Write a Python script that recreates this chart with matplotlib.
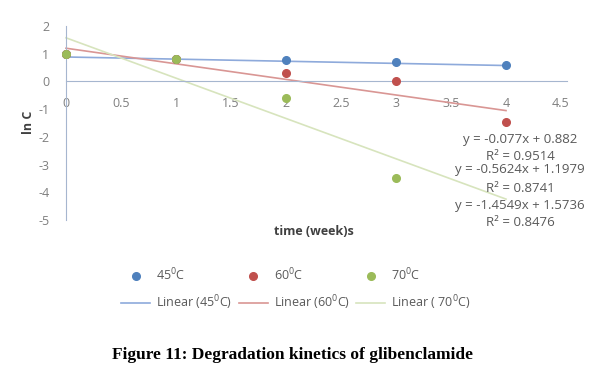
import matplotlib
matplotlib.use("Agg")
import matplotlib.pyplot as plt
import numpy as np
from matplotlib.lines import Line2D

plt.rcParams['font.family'] = ['Open Sans', 'DejaVu Sans']

# Data
weeks_45 = [0, 1, 2, 3, 4]
lnC_45 = [1.0, 0.8, 0.78, 0.70, 0.60]
weeks_60 = [0, 1, 2, 3, 4]
lnC_60 = [1.0, 0.8, 0.31, 0.0, -1.48]
weeks_70 = [0, 1, 2, 3]
lnC_70 = [1.0, 0.8, -0.58, -3.5]

series_names = ['45', '60', '70']
slopes = [-0.077, -0.5624, -1.4549]
intercepts = [0.882, 1.1979, 1.5736]
r2_values = [0.9514, 0.8741, 0.8476]
eq_texts = ['y = -0.077x + 0.882', 'y = -0.5624x + 1.1979', 'y = -1.4549x + 1.5736']

x_ticks = [0, 0.5, 1, 1.5, 2, 2.5, 3, 3.5, 4, 4.5]
x_tick_labels = ['0', '0.5', '1', '1.5', '2', '2.5', '3', '3.5', '4', '4.5']
y_ticks = [-5, -4, -3, -2, -1, 0, 1, 2]

marker_colors = ['#4F81BD', '#C0504D', '#9BBB59']
line_colors = ['#8EAADB', '#D99694', '#D7E4BD']

fig = plt.figure(figsize=(6.14, 3.79), dpi=100)
ax = fig.add_axes([66/614, 1-220/379, 495/614, 194/379])

ax.set_xlim(0, 4.5)
ax.set_ylim(-5, 2)

xs_fit = np.array([0, 4])
for s, b, lc in zip(slopes, intercepts, line_colors):
    ax.plot(xs_fit, s*xs_fit + b, color=lc, lw=1.2, zorder=2, clip_on=False)

for (wx, wy), mc in zip([(weeks_45, lnC_45), (weeks_60, lnC_60), (weeks_70, lnC_70)], marker_colors):
    ax.plot(wx, wy, 'o', color=mc, ms=5.5, zorder=3, clip_on=False, mec=mc)

# Spines Excel-like
for sp in ['top', 'right']:
    ax.spines[sp].set_visible(False)
ax.spines['left'].set_position(('data', 0))
ax.spines['bottom'].set_position(('data', 0))
axis_col = '#A6B6CF'
ax.spines['left'].set_color(axis_col)
ax.spines['bottom'].set_color(axis_col)
ax.spines['bottom'].set_bounds(0, 4.55)

ax.set_xticks(x_ticks)
ax.set_xticklabels(x_tick_labels)
ax.set_yticks(y_ticks)
ax.set_yticklabels([str(v) for v in y_ticks])
ax.tick_params(axis='both', length=0, colors='#7F7F7F', labelsize=9)
ax.tick_params(axis='x', pad=11)
ax.tick_params(axis='y', pad=12)

fig.text(28/614, 1-122/379, 'ln C', rotation=90, ha='center', va='center',
         fontsize=9, fontweight='bold', color='#404040')
fig.text(314/614, 1-231/379, 'time (week)s', ha='center', va='center',
         fontsize=9, fontweight='bold', color='#404040')

# Equation labels
eq_pos = [(520, 140, 157), (520, 170, 188), (520, 206, 223)]
for (xp, ye, yr), eq, r2 in zip(eq_pos, eq_texts, r2_values):
    fig.text(xp/614, 1-ye/379, eq, ha='center', va='center', fontsize=9.5, color='#595959')
    fig.text(xp/614, 1-yr/379, 'R² = %.4f' % r2, ha='center', va='center', fontsize=9.5, color='#595959')

# Legend
leg_handles = []
leg_labels = []
for name, mc, lc in zip(series_names, marker_colors, line_colors):
    leg_handles.append(Line2D([], [], ls='none', marker='o', color=mc, ms=5.5))
    leg_labels.append(r'%s$^{\mathregular{0}}$C' % name)
    leg_handles.append(Line2D([], [], color=lc, lw=1.2))
    leg_labels.append(r'Linear (%s%s$^{\mathregular{0}}$C)' % (' ' if name == '70' else '', name))
leg = fig.legend(leg_handles, leg_labels, ncol=3, loc='center', bbox_to_anchor=(296/614, 1-289/379),
                 frameon=False, fontsize=9, handlelength=2.3, columnspacing=0.5,
                 handletextpad=0.5, labelspacing=0.8)
for t in leg.get_texts():
    t.set_color('#595959')

fig.text(292/614, 1-355/379, 'Figure 11: Degradation kinetics of glibenclamide',
         ha='center', va='center', fontsize=12.5, fontweight='bold',
         family=['Liberation Serif', 'DejaVu Serif'])

fig.savefig('out.png', dpi=100)
